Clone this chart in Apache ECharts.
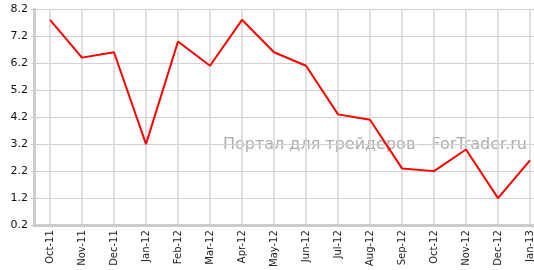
<!DOCTYPE html>
<html><head><meta charset="utf-8">
<script src="https://cdn.jsdelivr.net/npm/echarts@6/dist/echarts.min.js"></script>
<style>html,body{margin:0;padding:0;background:#fff;overflow:hidden}#c{width:546px;height:270px}</style>
</head><body><div id="c"></div>
<script>
const categories = ['Oct-11','Nov-11','Dec-11','Jan-12','Feb-12','Mar-12','Apr-12','May-12','Jun-12','Jul-12','Aug-12','Sep-12','Oct-12','Nov-12','Dec-12','Jan-13'];
const values = [7.8, 6.4, 6.6, 3.2, 7.0, 6.1, 7.8, 6.6, 6.1, 4.3, 4.1, 2.3, 2.2, 3.0, 1.2, 2.6];
const yMin = 0.2, yMax = 8.2, yStep = 1;
const watermark = 'Портал для трейдеров - ForTrader.ru';

const chart = echarts.init(document.getElementById('c'), null, {renderer: 'canvas'});
chart.setOption({
  animation: false,
  backgroundColor: '#fff',
  grid: {left: 34, right: 0, top: 9, bottom: 39, containLabel: false},
  graphic: [{
    type: 'text', right: 19, top: 137, z: 0, zlevel: 0,
    style: {text: watermark, fill: '#b3abab', font: '16px "DejaVu Sans", Verdana, sans-serif'}
  }],
  xAxis: {
    type: 'category', data: categories, boundaryGap: true,
    axisLine: {lineStyle: {color: '#cccccc', width: 3}},
    axisTick: {alignWithLabel: true, length: 3, lineStyle: {color: '#cccccc', width: 1}},
    axisLabel: {rotate: 90, margin: 5, color: '#222', fontSize: 10, fontFamily: '"DejaVu Sans", Verdana, sans-serif', interval: 0},
    splitLine: {show: true, alignWithLabel: true, lineStyle: {color: '#d6d6d6', width: 1.5}}
  },
  yAxis: {
    type: 'value', min: yMin, max: yMax, interval: yStep,
    axisLine: {show: true, lineStyle: {color: '#cccccc', width: 3}},
    axisTick: {show: true, length: 3, lineStyle: {color: '#cccccc'}},
    axisLabel: {color: '#111', fontSize: 11, margin: 6, fontFamily: '"DejaVu Sans", Verdana, sans-serif', formatter: v => v.toFixed(1)},
    splitLine: {show: true, lineStyle: {color: '#d0d0d0', width: 1}}
  },
  series: [{
    type: 'line', data: values, symbol: 'none', z: 5, zlevel: 1,
    lineStyle: {color: '#ff0000', width: 2}
  }]
});
</script></body></html>
